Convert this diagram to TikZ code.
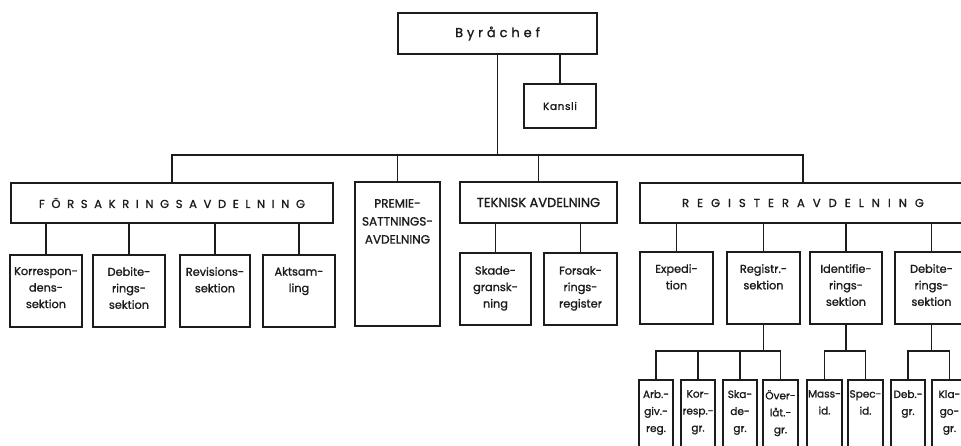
\documentclass[tikz,border=0pt]{standalone}
\usepackage{fontspec}
\setmainfont{Poppins}[FakeBold=1.2]
\definecolor{ink}{HTML}{1C1C1C}
\begin{document}
\begin{tikzpicture}[x=1pt,y=-1pt,
  box/.style={draw=ink, line width=1.7pt, anchor=north west, inner sep=0pt, outer sep=0pt, text=ink},
  lab/.style={anchor=north, align=center, inner sep=0pt, text=ink, font=\fontsize{11.3}{16.5}\selectfont},
  tiny/.style={anchor=north, align=center, inner sep=0pt, text=ink, font=\fontsize{10.5}{17}\selectfont},
  wire/.style={draw=ink, line width=1.5pt}]
\useasboundingbox (0,0) rectangle (961,446);
\clip (0,0) rectangle (961,446);
\fill[white] (0,0) rectangle (961,446);
% top
\node[box, minimum width=199, minimum height=41, font=\fontsize{13}{13}\selectfont] (chef) at (398,13) {\addfontfeatures{LetterSpace=30}Byråchef};
\node[box, minimum width=72, minimum height=44, font=\fontsize{10.5}{12}\selectfont] (kansli) at (524,84) {\addfontfeatures{LetterSpace=6}Kansli};
% level 1
\node[box, minimum width=322, minimum height=40, font=\fontsize{11.5}{12}\selectfont] (fors) at (11,183) {\addfontfeatures{LetterSpace=58}FÖRSAKRINGSAVDELNING};
\node[box, minimum width=85, minimum height=144, label={[lab, font=\fontsize{12}{18}\selectfont, yshift=-17pt]north:{PREMIE-\\SATTNINGS-\\AVDELNING}}] (premie) at (355,182) {};
\node[box, minimum width=157, minimum height=41, font=\fontsize{13}{13}\selectfont] (tek) at (460,182) {TEKNISK AVDELNING};
\node[box, minimum width=326, minimum height=40, font=\fontsize{11.5}{12}\selectfont] (reg) at (640,183) {\addfontfeatures{LetterSpace=70}REGISTERAVDELNING};
% level 2 - forsakring
\node[box, minimum width=72, minimum height=72, label={[lab, yshift=-12pt]north:{Korrespon-\\dens-\\sektion}}] (korr) at (10,255) {};
\node[box, minimum width=72, minimum height=72, label={[lab, yshift=-12pt]north:{Debite-\\rings-\\sektion}}] (deb1) at (93,255) {};
\node[box, minimum width=70, minimum height=72, label={[lab, yshift=-12pt]north:{Revisions-\\sektion}}] (rev) at (180,255) {};
\node[box, minimum width=72, minimum height=72, label={[lab, yshift=-12pt]north:{Aktsam-\\ling}}] (akt) at (263,255) {};
% level 2 - teknisk
\node[box, minimum width=71, minimum height=72, label={[lab, yshift=-13pt]north:{Skade-\\gransk-\\ning}}] (skade) at (460,253) {};
\node[box, minimum width=73, minimum height=72, label={[lab, yshift=-13pt]north:{Forsak-\\rings-\\register}}] (fsreg) at (544,253) {};
% level 2 - register
\node[box, minimum width=73, minimum height=72, label={[lab, yshift=-12pt]north:{Expedi-\\tion}}] (exp) at (640,252) {};
\node[box, minimum width=73, minimum height=72, label={[lab, yshift=-12pt]north:{Registr.-\\sektion}}] (regs) at (727,252) {};
\node[box, minimum width=72, minimum height=72, label={[lab, yshift=-12pt]north:{Identifie-\\rings-\\sektion}}] (ident) at (810,252) {};
\node[box, minimum width=73, minimum height=72, label={[lab, yshift=-12pt]north:{Debite-\\rings-\\sektion}}] (deb2) at (895,252) {};
% level 3
\node[box, minimum width=34, minimum height=80, label={[tiny, yshift=-10pt]north:{Arb.-\\giv.-\\reg.}}] (arb) at (639,380) {};
\node[box, minimum width=34, minimum height=80, label={[tiny, yshift=-10pt]north:{Kor-\\resp.-\\gr.}}] (kor2) at (681,380) {};
\node[box, minimum width=34, minimum height=80, label={[tiny, yshift=-10pt]north:{Ska-\\de-\\gr.}}] (ska) at (723,380) {};
\node[box, minimum width=35, minimum height=80, label={[tiny, yshift=-10pt]north:{Över-\\låt.-\\gr.}}] (over) at (763,380) {};
\node[box, minimum width=35, minimum height=80, label={[tiny, yshift=-10pt]north:{Mass-\\id.}}] (mass) at (807,380) {};
\node[box, minimum width=35, minimum height=80, label={[tiny, yshift=-10pt]north:{Spec-\\id.}}] (spec) at (848,380) {};
\node[box, minimum width=34, minimum height=80, label={[tiny, yshift=-10pt]north:{Deb.-\\gr.}}] (deb3) at (891,380) {};
\node[box, minimum width=35, minimum height=80, label={[tiny, yshift=-10pt]north:{Kla-\\go-\\gr.}}] (kla) at (932,380) {};
% buses
\coordinate (bus) at (0,155);
\coordinate (lb) at (0,351);
% connectors
\draw[wire] (chef.south) -- (chef.south |- bus);
\draw[wire] (kansli.north) -- (kansli.north |- chef.south);
\draw[wire] (fors.north) -- (fors.north |- bus) -- (reg.north |- bus) -- (reg.north);
\draw[wire] (premie.north) -- (premie.north |- bus);
\draw[wire] (tek.north) -- (tek.north |- bus);
\foreach \n in {korr,deb1,rev,akt} \draw[wire] (\n.north) -- (\n.north |- fors.south);
\foreach \n in {skade,fsreg} \draw[wire] (\n.north) -- (\n.north |- tek.south);
\foreach \n in {exp,regs,ident,deb2} \draw[wire] (\n.north) -- (\n.north |- reg.south);
\draw[wire] (regs.south) -- (regs.south |- lb);
\draw[wire] (arb.north) -- (arb.north |- lb) -- (over.north |- lb) -- (over.north);
\foreach \n in {kor2,ska} \draw[wire] (\n.north) -- (\n.north |- lb);
\draw[wire] (ident.south) -- (ident.south |- lb);
\draw[wire] (mass.north) -- (mass.north |- lb) -- (spec.north |- lb) -- (spec.north);
\draw[wire] (deb2.south) -- (deb2.south |- lb);
\draw[wire] (deb3.north) -- (deb3.north |- lb) -- (kla.north |- lb) -- (kla.north);
\end{tikzpicture}
\end{document}
